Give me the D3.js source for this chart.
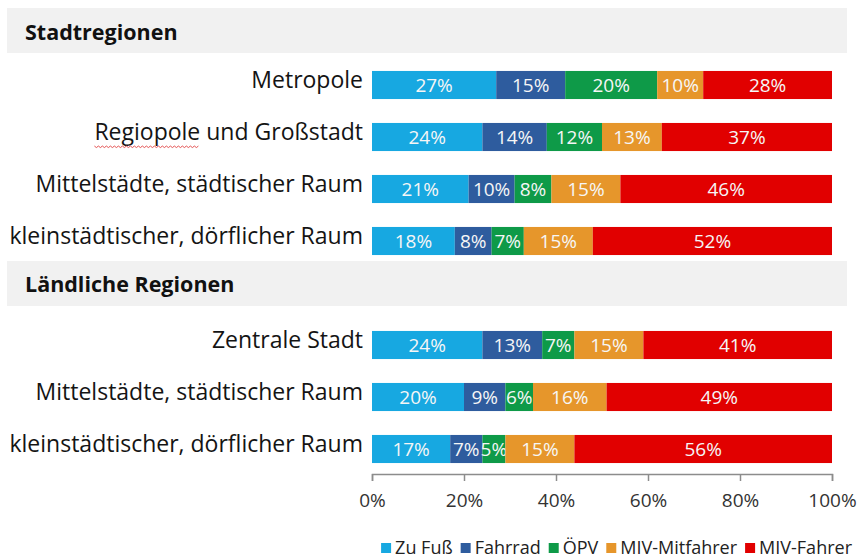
<!DOCTYPE html>
<html>
<head>
<meta charset="utf-8">
<script src="https://cdn.jsdelivr.net/npm/d3@7"></script>
<style>
  body { margin: 0; background: #fff; }
  svg { display: block; font-family: "Open Sans", sans-serif; font-variant-ligatures: none; }
</style>
</head>
<body>
<div id="chart"></div>
<script>
// data (percent shares of trips)
let modes = ["Zu Fuß", "Fahrrad", "ÖPV", "MIV-Mitfahrer", "MIV-Fahrer"]
let modeColors = ["#17a8e1", "#2e5c9e", "#0e9a48", "#e6962b", "#e10000"]

let stadtRows = ["Metropole", "Regiopole und Großstadt", "Mittelstädte, städtischer Raum", "kleinstädtischer, dörflicher Raum"]
let stadtValues = [
    [27, 15, 20, 10, 28],
    [24, 14, 12, 13, 37],
    [21, 10, 8, 15, 46],
    [18, 8, 7, 15, 52]
]
let landRows = ["Zentrale Stadt", "Mittelstädte, städtischer Raum", "kleinstädtischer, dörflicher Raum"]
let landValues = [
    [24, 13, 7, 15, 41],
    [20, 9, 6, 16, 49],
    [17, 7, 5, 15, 56]
]
let groupTitles = ["Stadtregionen", "Ländliche Regionen"]
let tickValues = [0, 0.2, 0.4, 0.6, 0.8, 1]

let width = 861, height = 560

let svg = d3.select("#chart").append("svg")
    .attr("width", width).attr("height", height)

// one table row per bar, plus an empty slot where the second header sits
let table = []
stadtRows.forEach(function(name, i) {
    let row = { key: "s" + i, name: name }
    modes.forEach(function(m, j) { row[m] = stadtValues[i][j] / 100 })
    table.push(row)
})
landRows.forEach(function(name, i) {
    let row = { key: "l" + i, name: name }
    modes.forEach(function(m, j) { row[m] = landValues[i][j] / 100 })
    table.push(row)
})
let slots = ["s0", "s1", "s2", "s3", "gap", "l0", "l1", "l2"]

let xScale = d3.scaleLinear().domain([0, 1]).range([372, 832])
let yScale = d3.scaleBand().domain(slots).range([59, 475])
    .paddingInner(0.46).paddingOuter(0.23)

// group header bands
let headerY = [8, yScale("gap") - 18]
let headers = svg.selectAll(".header")
    .data(groupTitles)
    .enter().append("g").attr("class", "header")
headers.append("rect")
    .attr("x", 7).attr("width", 840)
    .attr("y", function(d, i) { return headerY[i] })
    .attr("height", 45)
    .attr("fill", "#f1f1f1")
headers.append("text")
    .attr("x", 25)
    .attr("y", function(d, i) { return headerY[i] + 24 })
    .attr("dy", "0.35em")
    .attr("font-size", 21.5).attr("font-weight", "bold")
    .attr("fill", "#111")
    .text(function(d) { return d })

// stacked bars
let stacked = d3.stack().keys(modes)(table)
let layers = svg.selectAll(".layer")
    .data(stacked)
    .enter().append("g").attr("class", "layer")
    .attr("fill", function(d, i) { return modeColors[i] })

layers.selectAll("rect")
    .data(function(d) { return d })
    .enter().append("rect")
    .attr("x", function(d) { return xScale(d[0]) })
    .attr("width", function(d) { return xScale(d[1]) - xScale(d[0]) })
    .attr("y", function(d) { return yScale(d.data.key) })
    .attr("height", yScale.bandwidth())

layers.selectAll("text")
    .data(function(d) { return d })
    .enter().append("text")
    .attr("x", function(d) { return (xScale(d[0]) + xScale(d[1])) / 2 })
    .attr("y", function(d) { return yScale(d.data.key) + yScale.bandwidth() / 2 })
    .attr("dy", "0.36em")
    .attr("text-anchor", "middle")
    .attr("font-size", 19)
    .attr("fill", "#f6f6f6")
    .text(function(d) { return Math.round((d[1] - d[0]) * 100) + "%" })

// row labels
let labels = svg.selectAll(".row-label")
    .data(table)
    .enter().append("text").attr("class", "row-label")
    .attr("x", 363)
    .attr("y", function(d) { return yScale(d.key) + yScale.bandwidth() / 2 - 5 })
    .attr("dy", "0.35em")
    .attr("text-anchor", "end")
    .attr("font-size", 23)
    .attr("fill", "#141414")
    .text(function(d) { return d.name })

// spell checker squiggle under "Regiopole"
let regio = labels.filter(function(d) { return d.name.startsWith("Regiopole") }).node()
let box = regio.getExtentOfChar(0)
let sqLen = regio.getSubStringLength(0, 9)
let sqY = box.y + box.height - 1
let squiggle = d3.range(0, Math.floor(sqLen / 2) + 1).map(function(i) {
    return [box.x + i * 2, sqY + (i % 2 ? 1.5 : 0)]
})
svg.append("path")
    .attr("d", d3.line()(squiggle))
    .attr("fill", "none").attr("stroke", "#e04040").attr("stroke-width", 0.9)

// x axis
let xAxis = d3.axisBottom(xScale)
    .tickValues(tickValues)
    .tickFormat(d3.format(".0%"))
    .tickSizeInner(7).tickSizeOuter(7)
    .tickPadding(13)
let axisG = svg.append("g")
    .attr("transform", "translate(0," + 474 + ")")
    .call(xAxis)
axisG.select(".domain").attr("stroke", "#8c8c8c").attr("stroke-width", 1.5)
axisG.selectAll(".tick line").attr("stroke", "#8c8c8c").attr("stroke-width", 1.5)
axisG.selectAll(".tick text")
    .attr("font-size", 19).attr("fill", "#333")
    .attr("font-family", "'Open Sans', sans-serif")

// legend, right aligned
let legend = svg.append("g").attr("class", "legend")
let items = legend.selectAll("g")
    .data(modes)
    .enter().append("g")
items.append("rect")
    .attr("width", 10).attr("height", 10)
    .attr("y", -5)
    .attr("fill", function(d, i) { return modeColors[i] })
items.append("text")
    .attr("x", 14)
    .attr("dy", "0.35em")
    .attr("font-size", 18)
    .attr("fill", "#222")
    .text(function(d) { return d })
let offset = 0
items.each(function() {
    d3.select(this).attr("transform", "translate(" + offset + ",0)")
    offset += 14 + d3.select(this).select("text").node().getComputedTextLength() + 8
})
legend.attr("transform", "translate(" + (852 - (offset - 8)) + "," + 548 + ")")
</script>
</body>
</html>
